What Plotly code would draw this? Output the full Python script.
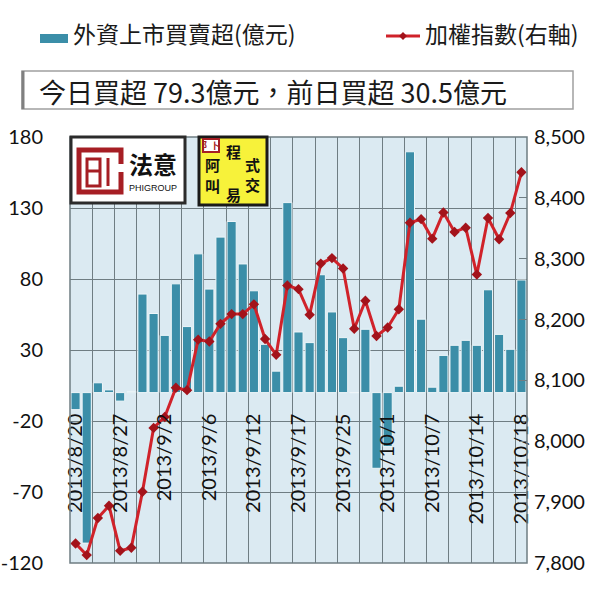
import plotly.graph_objects as go

# ---------------- data ----------------
dates = ["2013/8/20", "2013/8/22", "2013/8/23", "2013/8/26", "2013/8/27", "2013/8/28",
         "2013/8/29", "2013/8/30", "2013/9/2", "2013/9/3", "2013/9/4", "2013/9/5",
         "2013/9/6", "2013/9/9", "2013/9/10", "2013/9/11", "2013/9/12", "2013/9/13",
         "2013/9/14", "2013/9/16", "2013/9/17", "2013/9/18", "2013/9/23", "2013/9/24",
         "2013/9/25", "2013/9/26", "2013/9/27", "2013/9/30", "2013/10/1", "2013/10/2",
         "2013/10/3", "2013/10/4", "2013/10/7", "2013/10/8", "2013/10/9", "2013/10/11",
         "2013/10/14", "2013/10/15", "2013/10/16", "2013/10/17", "2013/10/18"]
net_buy = [-12, -106, 6.9, 1.9, -6, 0.8, 69.4, 55.7, 40.3, 76.6, 46.5, 97.7, 72.9,
           109.5, 120.5, 90.6, 71.7, 34, 15.1, 133.8, 42.7, 35.2, 83, 56.8, 38.7, 0,
           44.6, -53.3, -38, 4.5, 169.6, 51.7, 3.8, 26.2, 33.3, 36.8, 33.3, 72.4, 41,
           30.5, 79.3]
taiex = [7832, 7813, 7874, 7894, 7820, 7825, 7917, 8022, 8040, 8088, 8084, 8167, 8164,
         8193, 8209, 8209, 8225, 8168, 8142, 8256, 8250, 8208, 8292, 8301, 8284, 8185,
         8231, 8173, 8187, 8217, 8359, 8365, 8333, 8376, 8344, 8351, 8274, 8367, 8332,
         8375, 8442]
left_ticks = [-120, -70, -20, 30, 80, 130, 180]
right_ticks = [7800, 7900, 8000, 8100, 8200, 8300, 8400, 8500]
label_step = 4
bar_name = "外資上市買賣超(億元)"
line_name = "加權指數(右軸)"
summary = "今日買超 79.3億元，前日買超 30.5億元"

# ---------------- geometry ----------------
W, H = 600, 592
L, R, T, B = 70, 73, 137, 29
PW, PH = W - L - R, H - T - B


def px(x):
    return (x - L) / PW


def py(y):
    return (H - B - y) / PH


xs = list(range(len(dates)))

BAR_C = "#3b8ea8"
LINE_C = "#d0222a"
MARK_C = "#a3131b"
CJK = "Noto Sans CJK TC"
NUM = "Lato"
GRID = "#6f7d83"

fig = go.Figure()
fig.add_trace(go.Bar(x=xs, y=net_buy, name=bar_name, width=0.82,
                     marker=dict(color=BAR_C, line=dict(color="#eef6f9", width=1)),
                     yaxis="y"))
fig.add_trace(go.Scatter(x=xs, y=taiex, name=line_name, mode="lines+markers",
                         line=dict(color=LINE_C, width=3),
                         marker=dict(symbol="diamond", size=8, color=MARK_C),
                         yaxis="y2"))

shapes = []
annotations = []


def text(x, y, s, size, family=CJK, color="#1a1a1a", xanchor="center"):
    annotations.append(dict(xref="paper", yref="paper", x=px(x), y=py(y), text=s,
                            showarrow=False, xanchor=xanchor, yanchor="middle",
                            font=dict(family=family, size=size, color=color)))


def rect(x0, y0, x1, y1, fill, lc=None, lw=0, layer="above"):
    shapes.append(dict(type="rect", xref="paper", yref="paper", x0=px(x0), x1=px(x1),
                       y0=py(y1), y1=py(y0), fillcolor=fill,
                       line=dict(color=lc or "rgba(0,0,0,0)", width=lw), layer=layer))


def line(x0, y0, x1, y1, color, w, layer="above"):
    shapes.append(dict(type="line", xref="paper", yref="paper", x0=px(x0), x1=px(x1),
                       y0=py(y0), y1=py(y1), line=dict(color=color, width=w), layer=layer))


# plot frame
shapes.append(dict(type="rect", xref="paper", yref="paper", x0=0, x1=1, y0=0, y1=1,
                   line=dict(color=GRID, width=1.5), layer="above"))

# ---- header legend ----
rect(40, 34, 68, 43, BAR_C)
text(71, 33, bar_name, 23, xanchor="left")
line(386, 36, 420, 36, LINE_C, 3)
shapes.append(dict(type="path", xref="paper", yref="paper",
                   path="M {a},{b} L {c},{d} L {a},{e} L {f},{d} Z".format(
                       a=px(403), b=py(32), c=px(407), d=py(36), e=py(40), f=px(399)),
                   fillcolor=MARK_C, line=dict(width=0)))
text(423, 33, line_name, 23, xanchor="left")

# ---- summary box ----
rect(22, 71, 573, 109, "white", "#a0a0a0", 1.5, layer="below")
line(23, 71, 23, 109, "#808080", 3)
text(37, 91, summary, 27, xanchor="left")

# ---- logo 1 (法意 PHIGROUP) ----
RED = "#a61e24"
rect(71, 137, 185, 203, "white", "#2b2b2b", 3)
rect(79, 150, 121, 192, "rgba(0,0,0,0)", RED, 5)
rect(87, 159, 100, 186, "rgba(0,0,0,0)", RED, 3)
line(87, 171, 100, 171, RED, 3)
line(108, 158, 108, 186, RED, 3)
rect(118, 164, 124, 172, "white")
text(153, 163, "<b>法意</b>", 24, color="#111")
text(153, 188, "PHIGROUP", 9, family="Liberation Sans", color="#111")

# ---- logo 2 (阿叫 程式交易) ----
rect(199, 137, 267, 205, "#f7f23a", "#1a1a1a", 3)
rect(203, 139, 219, 152, "white", RED, 2)
text(211, 145.5, "<b>阝卜</b>", 9, color=RED)
for ch, cx, cy in [("程", 233, 152), ("阿", 212, 165), ("式", 252, 164),
                   ("叫", 212, 185), ("交", 252, 184), ("易", 233, 194)]:
    text(cx, cy, "<b>%s</b>" % ch, 15, color="#111")

fig.update_layout(
    width=W, height=H,
    margin=dict(l=L, r=R, t=T, b=B, pad=0, autoexpand=False),
    paper_bgcolor="white",
    plot_bgcolor="#dbeaf2",
    showlegend=False,
    shapes=shapes,
    annotations=annotations,
    xaxis=dict(
        range=[-0.5, len(dates) - 0.5],
        tickmode="array",
        tickvals=xs[::label_step],
        ticktext=dates[::label_step],
        tickangle=-90,
        anchor="free", position=0.4,
        showgrid=False, zeroline=False, showline=False, automargin=False,
        ticks="", ticklabelstandoff=16,
        tickfont=dict(family=NUM, size=20, color="#111"),
        minor=dict(tickmode="array",
                   tickvals=[i + 0.5 for i in xs[1:-1:2]],
                   showgrid=True, gridcolor=GRID, gridwidth=1, ticks=""),
    ),
    yaxis=dict(
        range=[-120, 180], tickmode="array", tickvals=left_ticks,
        ticktext=[str(v) for v in left_ticks],
        showgrid=True, gridcolor=GRID, gridwidth=1, zeroline=False, automargin=False,
        ticks="", ticklabelstandoff=26,
        tickfont=dict(family=NUM, size=20, color="#111"),
    ),
    yaxis2=dict(
        range=[7800, 8500], tickmode="array", tickvals=right_ticks, tickformat=",",
        overlaying="y", side="right", showgrid=False, zeroline=False, automargin=False,
        ticks="inside", ticklen=8, tickcolor=GRID, ticklabelstandoff=6,
        tickfont=dict(family=NUM, size=20, color="#111"),
    ),
)

fig.write_html("out.html")
